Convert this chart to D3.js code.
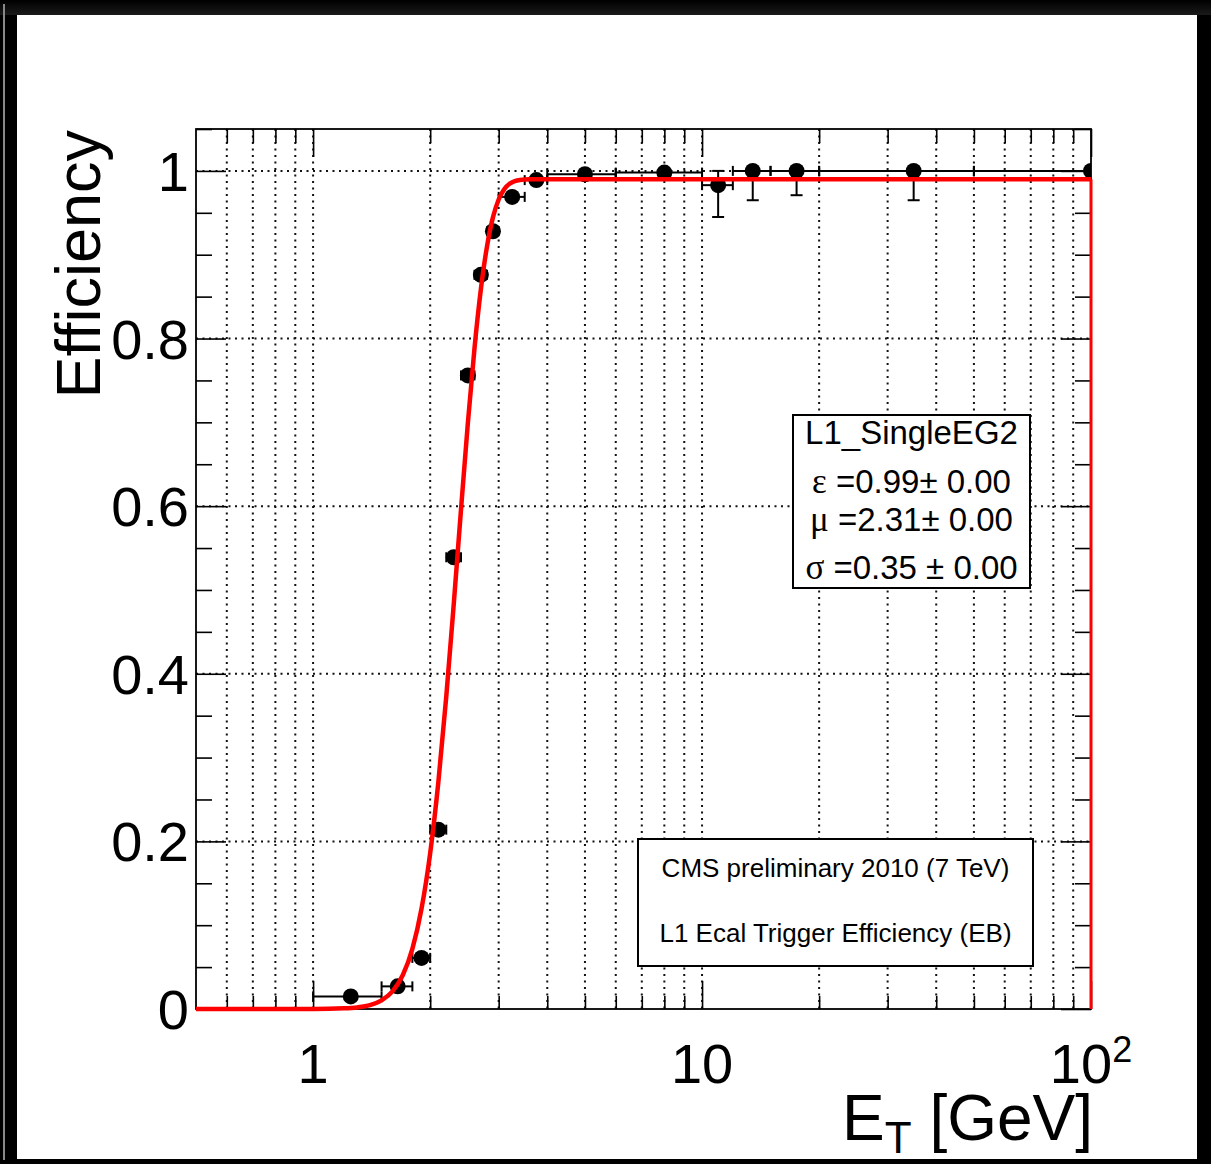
<!DOCTYPE html>
<html>
<head>
<meta charset="utf-8">
<script src="https://cdn.jsdelivr.net/npm/d3@7"></script>
<style>
  html, body { margin: 0; padding: 0; background: #000; }
  svg { display: block; }
  text { font-family: "Liberation Sans", Arial, Helvetica, sans-serif; fill: #000; }
</style>
</head>
<body>
<svg id="chart" width="1211" height="1164"></svg>
<script>
// ---------------- data ----------------
// bin centres (GeV), bin edges, efficiency, asymmetric errors
const binCenter = [1.25, 1.65, 1.9, 2.1, 2.3, 2.5, 2.7, 2.9, 3.25, 3.75, 5, 8, 11, 13.5, 17.5, 35, 100];
const binLow    = [1.0, 1.5, 1.8, 2.0, 2.2, 2.4, 2.6, 2.8, 3.0, 3.5, 4, 6, 10, 12, 15, 20, 50];
const binHigh   = [1.5, 1.8, 2.0, 2.2, 2.4, 2.6, 2.8, 3.0, 3.5, 4.0, 6, 10, 12, 15, 20, 50, 150];
const effValue  = [0.015, 0.027, 0.061, 0.214, 0.539, 0.756, 0.876, 0.928, 0.969, 0.989, 0.996, 0.998, 0.983, 1.0, 1.0, 1.0, 1.0];
const errLow    = [0.003, 0.003, 0.004, 0.006, 0.007, 0.007, 0.006, 0.005, 0.004, 0.003, 0.003, 0.003, 0.038, 0.035, 0.029, 0.035, 0.0];
const errHigh   = [0.003, 0.003, 0.004, 0.006, 0.007, 0.007, 0.006, 0.005, 0.004, 0.003, 0.002, 0.002, 0.017, 0.0, 0.0, 0.0, 0.0];

// fitted turn-on curve
const fitX = [0.5, 1.0, 1.2, 1.3, 1.4, 1.5, 1.6, 1.7, 1.8, 1.9, 2.0, 2.1, 2.2, 2.3, 2.4, 2.5, 2.6, 2.7, 2.8, 2.9, 3.0, 3.1, 3.2, 3.3, 3.4, 3.6, 4.0, 10, 100];
const fitY = [0.0, 0.0001, 0.0008, 0.0019, 0.0046, 0.0103, 0.0210, 0.0403, 0.0718, 0.1196, 0.1859, 0.2715, 0.3729, 0.4837, 0.5954, 0.6993, 0.7884, 0.8587, 0.9100, 0.9446, 0.9659, 0.9782, 0.9846, 0.9877, 0.9891, 0.9899, 0.9900, 0.9900, 0.9900];

const xMajorTicks = [1, 10, 100];
const xMinorTicks = [0.6, 0.7, 0.8, 0.9, 2, 3, 4, 5, 6, 7, 8, 9, 20, 30, 40, 50, 60, 70, 80, 90];
const yMajorTicks = [0, 0.2, 0.4, 0.6, 0.8, 1.0];
const yMinorTicks = [0.05, 0.1, 0.15, 0.25, 0.3, 0.35, 0.45, 0.5, 0.55, 0.65, 0.7, 0.75, 0.85, 0.9, 0.95, 1.05];
const yTickLabels = ["0", "0.2", "0.4", "0.6", "0.8", "1"];
const xTickLabels = ["1", "10", "10"];

const statsLines = [
  {g: "", t: "L1_SingleEG2"},
  {g: "ε", t: " =0.99± 0.00"},
  {g: "μ", t: " =2.31± 0.00"},
  {g: "σ", t: " =0.35 ± 0.00"}
];
const infoLines = ["CMS preliminary 2010 (7 TeV)", "L1 Ecal Trigger Efficiency (EB)"];

// ---------------- layout ----------------
const W = 1211, H = 1164;
const L = 196, R = 1091, T = 129, B = 1009;

const svg = d3.select("#chart");

// screenshot frame
const defs = svg.append("defs");
const grad = defs.append("linearGradient").attr("id", "topg").attr("x1", 0).attr("y1", 0).attr("x2", 0).attr("y2", 1);
grad.append("stop").attr("offset", "0%").attr("stop-color", "#000");
grad.append("stop").attr("offset", "100%").attr("stop-color", "#1a1a1a");
defs.append("clipPath").attr("id", "plotclip").append("rect")
  .attr("x", L).attr("y", T - 20).attr("width", R - L).attr("height", B - T + 40);

svg.append("rect").attr("width", W).attr("height", H).attr("fill", "#000");
svg.append("rect").attr("x", 0).attr("y", 0).attr("width", W).attr("height", 15).attr("fill", "url(#topg)");
svg.append("rect").attr("x", 3).attr("y", 4).attr("width", 2).attr("height", H - 8).attr("fill", "#888");
svg.append("rect").attr("x", 17).attr("y", 15).attr("width", 1180).attr("height", 1144).attr("fill", "#fff");

const x = d3.scaleLog().domain([0.5, 100]).range([L, R]);
const y = d3.scaleLinear().domain([0, 1.05]).range([B, T]);

// ---------------- grid ----------------
const grid = svg.append("g").attr("stroke", "#111").attr("stroke-width", 2).attr("stroke-dasharray", "2,4.5");
grid.selectAll("line.vx").data(xMinorTicks.concat([1, 10]))
  .join("line").attr("x1", d => x(d)).attr("x2", d => x(d)).attr("y1", T).attr("y2", B);
grid.selectAll("line.hy").data(yMajorTicks.filter(v => v > 0))
  .join("line").attr("x1", L).attr("x2", R).attr("y1", d => y(d)).attr("y2", d => y(d));

// ---------------- axes (ticks inward on all four sides) ----------------
function styleAxis(g) {
  g.select(".domain").remove();
  g.selectAll(".tick line").attr("stroke", "#000").attr("stroke-width", 1.6);
  g.selectAll(".tick text").remove();
}
svg.append("g").attr("transform", `translate(0,${B})`)
  .call(d3.axisBottom(x).tickValues(xMajorTicks).tickSize(-28).tickFormat("")).call(styleAxis);
svg.append("g").attr("transform", `translate(0,${B})`)
  .call(d3.axisBottom(x).tickValues(xMinorTicks).tickSize(-13).tickFormat("")).call(styleAxis);
svg.append("g").attr("transform", `translate(0,${T})`)
  .call(d3.axisTop(x).tickValues(xMajorTicks).tickSize(-28).tickFormat("")).call(styleAxis);
svg.append("g").attr("transform", `translate(0,${T})`)
  .call(d3.axisTop(x).tickValues(xMinorTicks).tickSize(-14).tickFormat("")).call(styleAxis);
svg.append("g").attr("transform", `translate(${L},0)`)
  .call(d3.axisLeft(y).tickValues(yMajorTicks).tickSize(-30).tickFormat("")).call(styleAxis);
svg.append("g").attr("transform", `translate(${L},0)`)
  .call(d3.axisLeft(y).tickValues(yMinorTicks).tickSize(-16).tickFormat("")).call(styleAxis);
svg.append("g").attr("transform", `translate(${R},0)`)
  .call(d3.axisRight(y).tickValues(yMajorTicks).tickSize(-30).tickFormat("")).call(styleAxis);
svg.append("g").attr("transform", `translate(${R},0)`)
  .call(d3.axisRight(y).tickValues(yMinorTicks).tickSize(-16).tickFormat("")).call(styleAxis);

// frame
svg.append("rect").attr("x", L).attr("y", T).attr("width", R - L).attr("height", B - T)
  .attr("fill", "none").attr("stroke", "#000").attr("stroke-width", 1.8);

// tick labels
svg.append("g").selectAll("text").data(yMajorTicks)
  .join("text")
  .attr("x", L - 7).attr("y", d => y(d) + 20)
  .attr("text-anchor", "end").attr("font-size", 56)
  .text((d, i) => yTickLabels[i]);

const xl = svg.append("g").selectAll("text").data(xMajorTicks)
  .join("text")
  .attr("x", d => x(d)).attr("y", B + 74)
  .attr("text-anchor", "middle").attr("font-size", 56)
  .text((d, i) => xTickLabels[i]);
xl.filter(d => d === 100).append("tspan").attr("font-size", 36).attr("dy", -21).text("2");

// axis titles
const xt = svg.append("text").attr("x", R + 2).attr("y", 1140).attr("text-anchor", "end").attr("font-size", 64);
xt.append("tspan").text("E");
xt.append("tspan").attr("font-size", 44).attr("dy", 13).text("T");
xt.append("tspan").attr("dy", -13).text(" [GeV]");

svg.append("text").attr("transform", "translate(100,130) rotate(-90)")
  .attr("text-anchor", "end").attr("font-size", 63).text("Efficiency");

// ---------------- data points ----------------
const pts = svg.append("g").attr("clip-path", "url(#plotclip)");
const idx = d3.range(binCenter.length);
const eb = pts.append("g").attr("stroke", "#000").attr("stroke-width", 2).attr("fill", "none");
const cap = 5;
// horizontal error bars
eb.selectAll("line.xe").data(idx).join("line")
  .attr("x1", i => x(binLow[i])).attr("x2", i => x(binHigh[i]))
  .attr("y1", i => y(effValue[i])).attr("y2", i => y(effValue[i]));
eb.selectAll("line.xcl").data(idx).join("line")
  .attr("x1", i => x(binLow[i])).attr("x2", i => x(binLow[i]))
  .attr("y1", i => y(effValue[i]) - cap).attr("y2", i => y(effValue[i]) + cap);
eb.selectAll("line.xch").data(idx).join("line")
  .attr("x1", i => x(binHigh[i])).attr("x2", i => x(binHigh[i]))
  .attr("y1", i => y(effValue[i]) - cap).attr("y2", i => y(effValue[i]) + cap);
// vertical error bars
eb.selectAll("line.ye").data(idx).join("line")
  .attr("x1", i => x(binCenter[i])).attr("x2", i => x(binCenter[i]))
  .attr("y1", i => y(effValue[i] - errLow[i])).attr("y2", i => y(effValue[i] + errHigh[i]));
eb.selectAll("line.ycl").data(idx.filter(i => errLow[i] > 0.01)).join("line")
  .attr("x1", i => x(binCenter[i]) - cap - 1).attr("x2", i => x(binCenter[i]) + cap + 1)
  .attr("y1", i => y(effValue[i] - errLow[i])).attr("y2", i => y(effValue[i] - errLow[i]));
eb.selectAll("line.ych").data(idx.filter(i => errHigh[i] > 0.01)).join("line")
  .attr("x1", i => x(binCenter[i]) - cap - 1).attr("x2", i => x(binCenter[i]) + cap + 1)
  .attr("y1", i => y(effValue[i] + errHigh[i])).attr("y2", i => y(effValue[i] + errHigh[i]));

pts.selectAll("circle").data(idx).join("circle")
  .attr("cx", i => x(binCenter[i])).attr("cy", i => y(effValue[i])).attr("r", 8).attr("fill", "#000");

// ---------------- fit curve ----------------
const line = d3.line().x(d => x(d[0])).y(d => y(d[1])).curve(d3.curveMonotoneX);
const fitData = fitX.map((v, i) => [v, fitY[i]]);
svg.append("path").datum(fitData).attr("d", line)
  .attr("fill", "none").attr("stroke", "#ff0000").attr("stroke-width", 4.5);
svg.append("line")
  .attr("x1", x(fitX[fitX.length - 1])).attr("x2", x(fitX[fitX.length - 1]))
  .attr("y1", y(fitY[fitY.length - 1])).attr("y2", y(0))
  .attr("stroke", "#ff0000").attr("stroke-width", 3);

// ---------------- stats box ----------------
svg.append("rect").attr("x", 793).attr("y", 415).attr("width", 237).attr("height", 173)
  .attr("fill", "#fff").attr("stroke", "#000").attr("stroke-width", 2);
const statsBase = [444, 493, 531, 579];
svg.append("g").selectAll("text").data(statsLines).join("text")
  .attr("x", 911.5).attr("y", (d, i) => statsBase[i])
  .attr("text-anchor", "middle").attr("font-size", 33)
  .each(function(d) {
    const t = d3.select(this);
    if (d.g) t.append("tspan").attr("font-family", "'Liberation Serif', 'DejaVu Serif', serif").attr("font-size", 35).text(d.g);
    t.append("tspan").text(d.t);
  });

// ---------------- info box ----------------
svg.append("rect").attr("x", 638).attr("y", 839).attr("width", 395).attr("height", 127)
  .attr("fill", "#fff").attr("stroke", "#000").attr("stroke-width", 2);
const infoBase = [877, 942];
svg.append("g").selectAll("text").data(infoLines).join("text")
  .attr("x", 835.5).attr("y", (d, i) => infoBase[i])
  .attr("text-anchor", "middle").attr("font-size", 26)
  .text(d => d);
</script>
</body>
</html>
